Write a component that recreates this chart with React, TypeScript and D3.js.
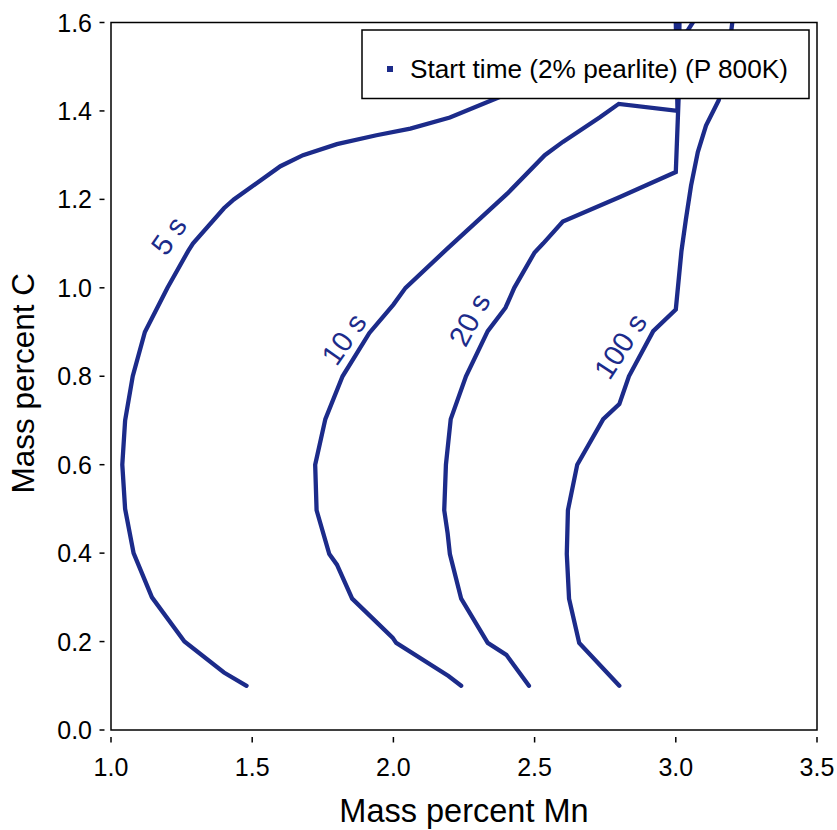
import React from "react";
import * as d3 from "d3";

const W = 837;
const H = 830;

const xTicks = [1.0, 1.5, 2.0, 2.5, 3.0, 3.5];
const yTicks = [0.0, 0.2, 0.4, 0.6, 0.8, 1.0, 1.2, 1.4, 1.6];

const curve5Mn = [1.48, 1.40, 1.26, 1.145, 1.08, 1.05, 1.04, 1.05, 1.077, 1.12, 1.20, 1.273, 1.29, 1.40, 1.435, 1.60, 1.68, 1.80, 1.94, 2.06, 2.20, 2.37, 2.60, 2.85, 3.04, 3.06];
const curve5C = [0.10, 0.13, 0.20, 0.30, 0.40, 0.50, 0.60, 0.70, 0.80, 0.90, 1.00, 1.083, 1.10, 1.18, 1.20, 1.275, 1.30, 1.325, 1.345, 1.36, 1.385, 1.43, 1.49, 1.54, 1.58, 1.60];

const curve10Mn = [2.24, 2.195, 2.01, 1.997, 1.854, 1.80, 1.773, 1.728, 1.723, 1.759, 1.82, 1.915, 2.00, 2.043, 2.19, 2.405, 2.536, 2.60, 2.73, 2.798, 3.006, 3.00];
const curve10C = [0.10, 0.122, 0.197, 0.209, 0.297, 0.374, 0.398, 0.497, 0.60, 0.703, 0.80, 0.898, 0.962, 1.00, 1.088, 1.214, 1.30, 1.33, 1.385, 1.416, 1.40, 1.60];

const curve20Mn = [2.48, 2.40, 2.334, 2.24, 2.20, 2.192, 2.18, 2.186, 2.203, 2.257, 2.334, 2.397, 2.428, 2.50, 2.53, 2.60, 2.80, 3.00, 3.01, 3.013];
const curve20C = [0.10, 0.17, 0.197, 0.297, 0.398, 0.445, 0.497, 0.60, 0.703, 0.80, 0.902, 0.955, 1.00, 1.08, 1.10, 1.15, 1.205, 1.262, 1.43, 1.60];

const curve100Mn = [2.80, 2.658, 2.622, 2.614, 2.618, 2.651, 2.743, 2.80, 2.834, 2.92, 3.00, 3.02, 3.036, 3.054, 3.078, 3.107, 3.152, 3.185, 3.20];
const curve100C = [0.10, 0.197, 0.297, 0.398, 0.497, 0.60, 0.703, 0.737, 0.80, 0.902, 0.951, 1.083, 1.156, 1.231, 1.307, 1.367, 1.424, 1.52, 1.60];

const labelText = ["5 s", "10 s", "20 s", "100 s"];
const labelMn = [1.205, 1.825, 2.27, 2.804];
const labelC = [1.118, 0.884, 0.928, 0.868];
const labelAngle = [-55, -55, -62, -57];

const legendLabel = "Start time (2% pearlite) (P 800K)";

const COLOR = "#1c2b8a";
const FONT = "'Liberation Sans', Arial, Helvetica, sans-serif";

export default function App() {
  const x = d3.scaleLinear().domain([1.0, 3.5]).range([111, 817]);
  const y = d3.scaleLinear().domain([0, 1.6]).range([730, 22.5]);

  const curves = [
    [curve5Mn, curve5C],
    [curve10Mn, curve10C],
    [curve20Mn, curve20C],
    [curve100Mn, curve100C],
  ];
  const line = d3
    .line<[number, number]>()
    .x((d) => x(d[0]))
    .y((d) => y(d[1]));

  const [x0, x1] = x.range();
  const [y0, y1] = y.range();

  return (
    <div style={{ position: "absolute", left: 0, top: 0 }}>
      <svg width={W} height={H} style={{ display: "block", background: "#fff" }} fontFamily={FONT}>
        <defs>
          <clipPath id="plotclip">
            <rect x={x0} y={y1} width={x1 - x0} height={y0 - y1} />
          </clipPath>
        </defs>
        <rect x={0} y={0} width={W} height={H} fill="#fff" />
        <g clipPath="url(#plotclip)">
          {curves.map(([mn, c], i) => (
            <path
              key={i}
              d={line(mn.map((v, j) => [v, c[j]] as [number, number])) || ""}
              fill="none"
              stroke={COLOR}
              strokeWidth={4.3}
              strokeLinejoin="miter"
              strokeMiterlimit={4}
              strokeLinecap="round"
            />
          ))}
        </g>
        {labelText.map((t, i) => (
          <text
            key={t}
            x={0}
            y={0}
            transform={`translate(${x(labelMn[i])},${y(labelC[i])}) rotate(${labelAngle[i]})`}
            textAnchor="middle"
            dominantBaseline="central"
            fontSize={29}
            fill={COLOR}
          >
            {t}
          </text>
        ))}
        {/* frame */}
        <rect x={x0} y={y1} width={x1 - x0} height={y0 - y1} fill="none" stroke="#000" strokeWidth={1.5} />
        {/* y ticks */}
        {yTicks.map((t) => (
          <g key={"y" + t}>
            <line x1={99.5} x2={104.5} y1={y(t)} y2={y(t)} stroke="#000" strokeWidth={1.5} />
            <text x={92} y={y(t)} textAnchor="end" dominantBaseline="central" fontSize={25} fill="#000">
              {t.toFixed(1)}
            </text>
          </g>
        ))}
        {/* x ticks */}
        {xTicks.map((t) => (
          <g key={"x" + t}>
            <line x1={x(t)} x2={x(t)} y1={737} y2={742.5} stroke="#000" strokeWidth={1.5} />
            <text x={x(t)} y={775.5} textAnchor="middle" fontSize={25} fill="#000">
              {t.toFixed(1)}
            </text>
          </g>
        ))}
        <text x={(x0 + x1) / 2} y={822} textAnchor="middle" fontSize={32.5} fill="#000">
          Mass percent Mn
        </text>
        <text
          transform={`translate(34,${(y0 + y1) / 2 + 7}) rotate(-90)`}
          textAnchor="middle"
          fontSize={31.5}
          fill="#000"
        >
          Mass percent C
        </text>
        {/* legend */}
        <rect x={362} y={30} width={447} height={68.5} fill="#fff" stroke="#000" strokeWidth={1.5} />
        <rect x={387} y={66} width={6} height={6} fill={COLOR} />
        <text x={410} y={78} fontSize={26.2} fill="#000">
          {legendLabel}
        </text>
      </svg>
    </div>
  );
}
